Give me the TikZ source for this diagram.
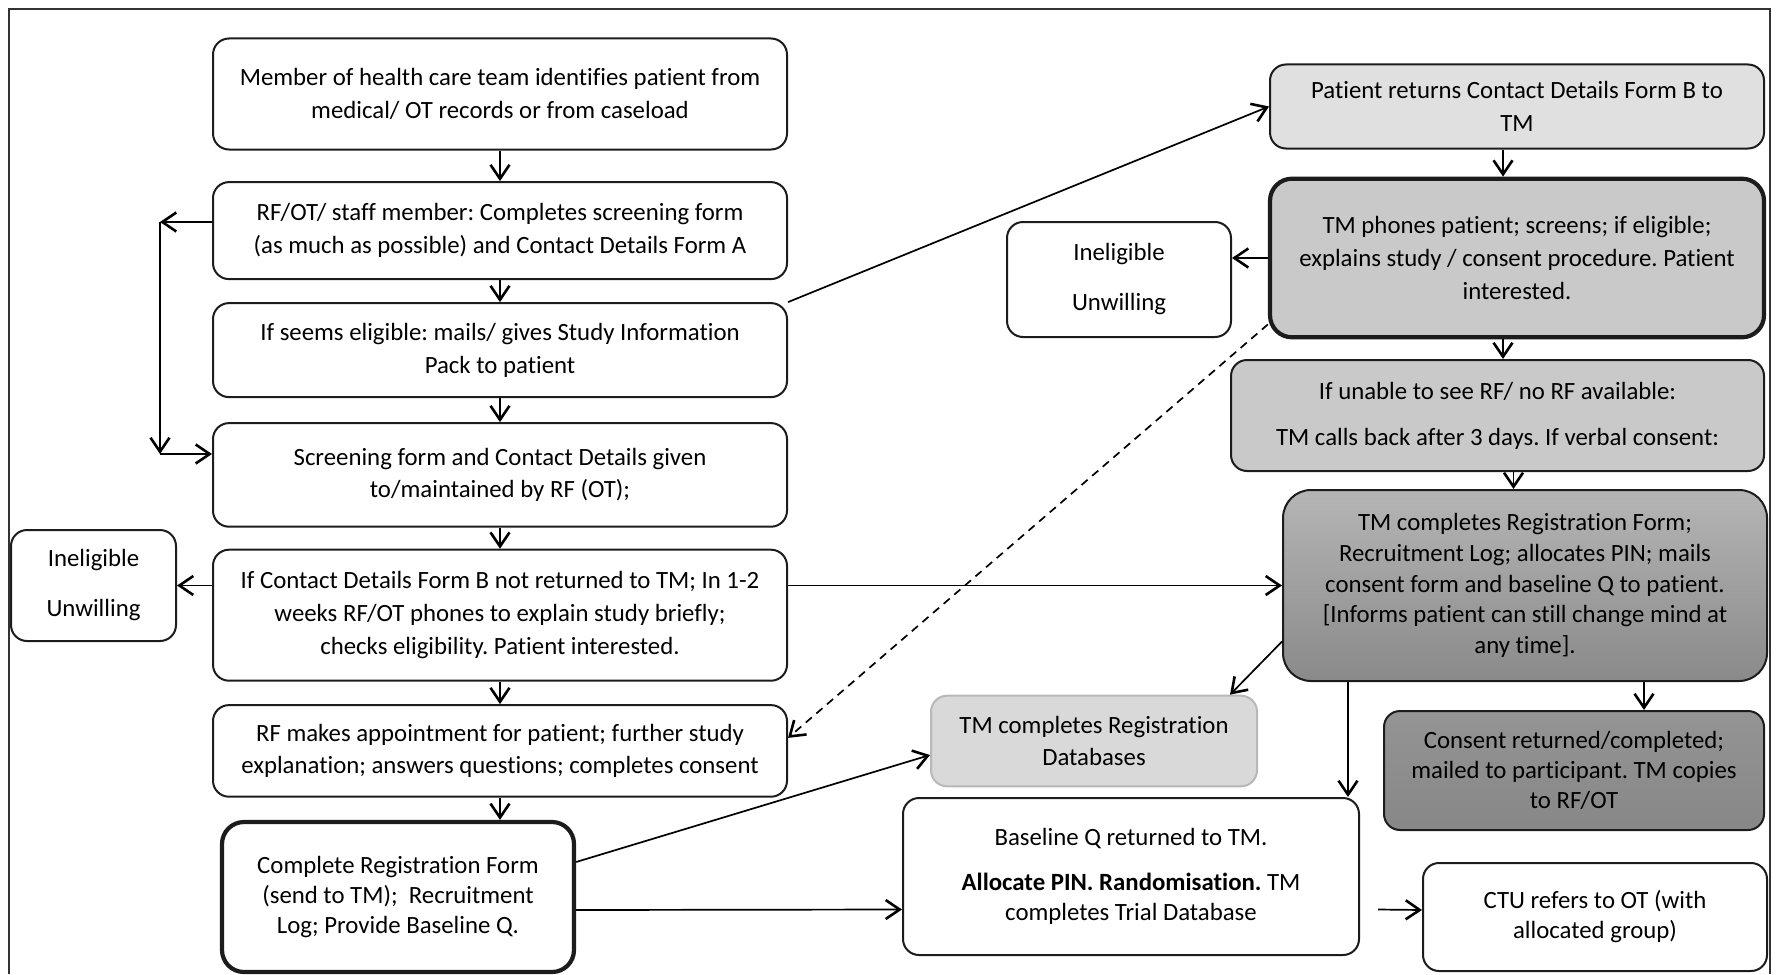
\documentclass[tikz,border=0pt]{standalone}
\usepackage{fontspec}
\setmainfont{Carlito}[Ligatures=NoCommon]
\usetikzlibrary{arrows.meta, calc, positioning}
\frenchspacing
\definecolor{boxline}{HTML}{1C1C1C}
\tikzset{
    box/.style={rectangle, rounded corners=8pt, draw=boxline, line width=1pt, align=center,
        fill=white, inner sep=2pt, text=black, font=\fontsize{12.4}{16.4}\selectfont},
    leftbox/.style={box, minimum width=287pt},
    heavy/.style={line width=2.1pt, rounded corners=11pt},
    palebox/.style={box, fill=black!12},
    midbox/.style={box, fill=black!21},
    darkbox/.style={box, top color=black!29, bottom color=black!46},
    shadebox/.style={box, top color=black!42, bottom color=black!47},
    softbox/.style={box, fill=black!15, draw=black!28},
    arrow/.style={-{Straight Barb[length=7pt, width=9.5pt, line width=1.3pt]}, line width=0.85pt},
}
\begin{document}
\begin{tikzpicture}[x=0.5pt, y=-0.5pt, node distance=11pt]
    \useasboundingbox (0,0) rectangle (1776,974);
    \draw[line width=1pt, black!80] (9,974) -- (9,9) -- (1770,9) -- (1770,974);

    % left column
    \node[leftbox, minimum height=55.5pt] (member) at (500,94) {Member of health care team identifies patient from\\medical/ OT records or from caseload};
    \node[leftbox, minimum height=48.5pt, below=15.3pt of member] (rfot) {RF/OT/ staff member: Completes screening form\\(as much as possible) and Contact Details Form A};
    \node[leftbox, minimum height=47pt, below=of rfot] (pack) {If seems eligible: mails/ gives Study Information\\Pack to patient};
    \node[leftbox, minimum height=51.8pt, below=12pt of pack] (screen) {Screening form and Contact Details given\\to/maintained by RF (OT);};
    \node[leftbox, minimum height=65.5pt, below=10.5pt of screen] (cdf) {If Contact Details Form B not returned to TM; In 1-2\\weeks RF/OT phones to explain study briefly;\\checks eligibility. Patient interested.};
    \node[leftbox, minimum height=45.8pt, below=11.2pt of cdf] (appt) {RF makes appointment for patient; further study\\explanation; answers questions; completes consent};
    \node[box, heavy, minimum width=176pt, minimum height=75pt, font=\fontsize{12.4}{15}\selectfont] (crf) at (398,897) {Complete Registration Form\\(send to TM);~~Recruitment\\Log; Provide Baseline Q.};
    \node[box, minimum width=82.5pt, minimum height=55.5pt] (inelA) at (93.5,585.5) {Ineligible\\[8.6pt]Unwilling};

    % right column
    \node[palebox, minimum width=247pt, minimum height=42pt] (returns) at (1517,106.5) {Patient returns Contact Details Form B to\\TM};
    \node[midbox, heavy, minimum width=247pt, minimum height=79.3pt] (tmphone) at (1517,258) {TM phones patient; screens; if eligible;\\explains study / consent procedure. Patient\\interested.};
    \node[box, minimum width=112pt, minimum height=57.5pt] (inelB) at (1119,279.5) {Ineligible\\[8.6pt]Unwilling};
    \node[midbox, minimum width=266.5pt, minimum height=55.5pt] (unable) at (1497.5,415.5) {If unable to see RF/ no RF available:\\[6.6pt]TM calls back after 3 days. If verbal consent:};
    \node[darkbox, rounded corners=14pt, minimum width=242pt, minimum height=95.5pt, font=\fontsize{12.4}{15.3}\selectfont] (tmreg) at (1525,585.5) {TM completes Registration Form;\\Recruitment Log; allocates PIN; mails\\consent form and baseline Q to patient.\\{}[Informs patient can still change mind at\\any time].};
    \node[softbox, minimum width=163pt, minimum height=45.3pt] (regdb) at (1094,741) {TM completes Registration\\Databases};
    \node[shadebox, minimum width=190pt, minimum height=59.5pt, font=\fontsize{12.4}{15}\selectfont] (consent) at (1574,770.5) {Consent returned/completed;\\mailed to participant. TM copies\\to RF/OT};
    \node[box, minimum width=228pt, minimum height=78.5pt, font=\fontsize{12.4}{15}\selectfont] (baseq) at (1131,876.5) {Baseline Q returned to TM.\\[7.6pt]\textbf{Allocate PIN. Randomisation.} TM\\completes Trial Database};
    \node[box, minimum width=172pt, minimum height=54pt, font=\fontsize{12.4}{15}\selectfont] (ctu) at (1595,917) {CTU refers to OT (with\\allocated group)};

    % main chain
    \draw[arrow] (member.south) -- (rfot.north);
    \draw[arrow] (rfot.south) -- (pack.north);
    \draw[arrow] (pack.south) -- (screen.north);
    \draw[arrow] (screen.south) -- (cdf.north);
    \draw[arrow] (cdf.south) -- (appt.north);
    \draw[arrow] (appt.south) -- (appt.south |- crf.north);

    % side loop on the left
    \coordinate (bendA) at (160,222);
    \coordinate (bendB) at (160,454);
    \draw[arrow] (rfot.west |- bendA) -- (bendA);
    \draw[arrow] (bendA) -- (bendB);
    \draw[arrow] (bendB) -- (screen.west |- bendB);

    \draw[arrow] (cdf.west |- inelA.east) -- (inelA.east);
    \draw[arrow] (cdf.east |- tmreg.west) -- (tmreg.west);
    \draw[arrow] (pack.north east) -- (returns.west);

    % right column
    \draw[arrow] ([xshift=-7pt]returns.south) -- ([xshift=-7pt]tmphone.north);
    \draw[arrow] (tmphone.west) -- (tmphone.west -| inelB.east);
    \draw[arrow] ([xshift=-7pt]tmphone.south) -- ([xshift=-7pt]tmphone.south |- unable.north);
    \draw[arrow] ([xshift=8pt]unable.south) -- ([xshift=8pt]unable.south |- tmreg.north);
    \draw[arrow, dash pattern=on 4pt off 3pt] ($(tmphone.south west)+(0,-15)$) -- ($(appt.east)+(0,-13)$);
    \draw[arrow] ($(tmreg.west)+(0,56)$) -- ($(regdb.north east)+(-28,0)$);
    \draw[arrow] ([xshift=59.5pt]tmreg.south) -- ([xshift=59.5pt]tmreg.south |- consent.north);
    \draw[arrow] ([xshift=-88.5pt]tmreg.south) -- ([xshift=-88.5pt]tmreg.south |- baseq.north);

    % bottom row
    \draw[arrow] ($(crf.east)+(0,-35)$) -- ($(regdb.west)+(0,14)$);
    \draw[arrow] ($(crf.east)+(0,13)$) -- ($(baseq.west)+(0,33)$);
    \draw[arrow] ($(baseq.east)+(18,33)$) -- ($(ctu.west)+(0,-7)$);
\end{tikzpicture}
\end{document}
